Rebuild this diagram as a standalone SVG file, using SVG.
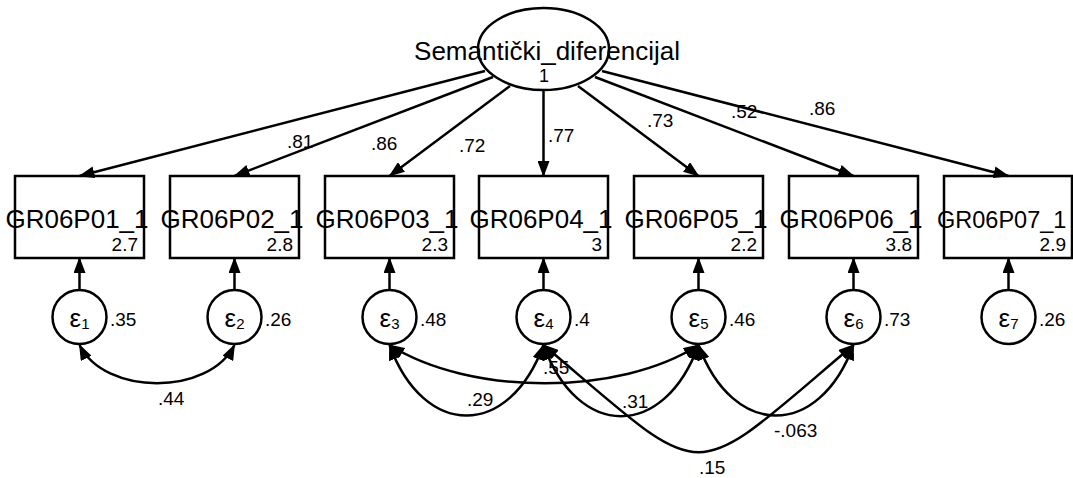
<svg xmlns="http://www.w3.org/2000/svg" width="1073" height="478" viewBox="0 0 1073 478">
<style>
text{font-family:"Liberation Sans",Arial,sans-serif;fill:#000}
.shape{fill:none;stroke:#000;stroke-width:2.5}
.num{font-size:19px}
.mean{font-size:19px;text-anchor:end}
.eps{font-size:26px;text-anchor:middle}
.sub{font-size:15px}
.name{font-size:26px;text-anchor:middle}
.conn path,.conn line{fill:none;stroke:#000;stroke-width:2.5}
</style>
<defs>
<marker id="ah" viewBox="0 0 16 12" markerWidth="16" markerHeight="12" markerUnits="userSpaceOnUse" refX="15" refY="6" orient="auto-start-reverse">
<path d="M0,0 L16,6 L0,12 z" fill="#000"/>
</marker>
</defs>
<rect width="1073" height="478" fill="#fff"/>

<g id="latent">
<ellipse class="shape" cx="543.5" cy="49" rx="65.5" ry="41"/>
<text class="name" x="547" y="60">Semantički_diferencijal</text>
<text x="544" y="82" style="font-size:18px;text-anchor:middle">1</text>
</g>

<g id="GR06P01_1"><rect class="shape" x="15" y="176" width="129" height="82"/><text class="name" x="77" y="228">GR06P01_1</text><text class="mean" x="138" y="251">2.7</text></g>
<g id="GR06P02_1"><rect class="shape" x="170" y="176" width="129" height="82"/><text class="name" x="232" y="228">GR06P02_1</text><text class="mean" x="293" y="251">2.8</text></g>
<g id="GR06P03_1"><rect class="shape" x="325" y="176" width="129" height="82"/><text class="name" x="387" y="228">GR06P03_1</text><text class="mean" x="448" y="251">2.3</text></g>
<g id="GR06P04_1"><rect class="shape" x="479" y="176" width="129" height="82"/><text class="name" x="541" y="228">GR06P04_1</text><text class="mean" x="602" y="251">3</text></g>
<g id="GR06P05_1"><rect class="shape" x="634" y="176" width="129" height="82"/><text class="name" x="696" y="228">GR06P05_1</text><text class="mean" x="757" y="251">2.2</text></g>
<g id="GR06P06_1"><rect class="shape" x="789" y="176" width="129" height="82"/><text class="name" x="851" y="228">GR06P06_1</text><text class="mean" x="912" y="251">3.8</text></g>
<g id="GR06P07_1"><rect class="shape" x="944" y="176" width="128" height="82"/><text x="937" y="228" style="font-size:23.5px">GR06P07_1</text><text class="mean" x="1066" y="251">2.9</text></g>

<g id="e1"><circle class="shape" cx="79.5" cy="317" r="27"/><text class="eps" x="79.5" y="327">ε<tspan class="sub" dy="2">1</tspan></text><text class="num" x="110" y="326">.35</text></g>
<g id="e2"><circle class="shape" cx="234.5" cy="317" r="27"/><text class="eps" x="234.5" y="327">ε<tspan class="sub" dy="2">2</tspan></text><text class="num" x="265" y="326">.26</text></g>
<g id="e3"><circle class="shape" cx="389.5" cy="317" r="27"/><text class="eps" x="389.5" y="327">ε<tspan class="sub" dy="2">3</tspan></text><text class="num" x="420" y="326">.48</text></g>
<g id="e4"><circle class="shape" cx="543.5" cy="317" r="27"/><text class="eps" x="543.5" y="327">ε<tspan class="sub" dy="2">4</tspan></text><text class="num" x="574" y="326">.4</text></g>
<g id="e5"><circle class="shape" cx="698.5" cy="317" r="27"/><text class="eps" x="698.5" y="327">ε<tspan class="sub" dy="2">5</tspan></text><text class="num" x="729" y="326">.46</text></g>
<g id="e6"><circle class="shape" cx="853.5" cy="317" r="27"/><text class="eps" x="853.5" y="327">ε<tspan class="sub" dy="2">6</tspan></text><text class="num" x="884" y="326">.73</text></g>
<g id="e7"><circle class="shape" cx="1008.5" cy="317" r="27"/><text class="eps" x="1008.5" y="327">ε<tspan class="sub" dy="2">7</tspan></text><text class="num" x="1039" y="326">.26</text></g>

<g id="connectors" class="conn">
<line x1="485" y1="71" x2="79.5" y2="176" marker-end="url(#ah)"/>
<line x1="493" y1="77" x2="234.5" y2="176" marker-end="url(#ah)"/>
<line x1="510" y1="86" x2="389.5" y2="176" marker-end="url(#ah)"/>
<line x1="543.5" y1="90" x2="543.5" y2="176" marker-end="url(#ah)"/>
<line x1="578" y1="86" x2="698.5" y2="176" marker-end="url(#ah)"/>
<line x1="595" y1="77" x2="853.5" y2="176" marker-end="url(#ah)"/>
<line x1="602" y1="71" x2="1008.5" y2="176" marker-end="url(#ah)"/>

<line x1="79.5" y1="290" x2="79.5" y2="258" marker-end="url(#ah)"/>
<line x1="234.5" y1="290" x2="234.5" y2="258" marker-end="url(#ah)"/>
<line x1="389.5" y1="290" x2="389.5" y2="258" marker-end="url(#ah)"/>
<line x1="543.5" y1="290" x2="543.5" y2="258" marker-end="url(#ah)"/>
<line x1="698.5" y1="290" x2="698.5" y2="258" marker-end="url(#ah)"/>
<line x1="853.5" y1="290" x2="853.5" y2="258" marker-end="url(#ah)"/>
<line x1="1008.5" y1="290" x2="1008.5" y2="258" marker-end="url(#ah)"/>

<path d="M79.5,345 C105,396 209,396 234.5,345" marker-start="url(#ah)" marker-end="url(#ah)"/>
<path d="M389.5,345 C470,396 620,396 698.5,345" marker-start="url(#ah)" marker-end="url(#ah)"/>
<path d="M389.5,345 C424,439 509,439 543.5,345" marker-start="url(#ah)" marker-end="url(#ah)"/>
<path d="M543.5,345 C578,440 664,440 698.5,345" marker-start="url(#ah)" marker-end="url(#ah)"/>
<path d="M698.5,345 C733,439 819,439 853.5,345" marker-start="url(#ah)" marker-end="url(#ah)"/>
<path d="M543.5,345 C713,488 684,488 853.5,345" marker-start="url(#ah)" marker-end="url(#ah)"/>
</g>

<g id="labels">
<text class="num" x="287" y="148">.81</text>
<text class="num" x="371" y="150">.86</text>
<text class="num" x="459" y="152">.72</text>
<text class="num" x="548" y="142">.77</text>
<text class="num" x="647" y="127">.73</text>
<text class="num" x="731" y="118">.52</text>
<text class="num" x="809" y="115">.86</text>
<text class="num" x="158" y="405">.44</text>
<text class="num" x="467" y="406">.29</text>
<text class="num" x="543" y="374">.55</text>
<text class="num" x="622" y="408">.31</text>
<text class="num" x="774" y="437">-.063</text>
<text class="num" x="699" y="474">.15</text>
</g>
</svg>
